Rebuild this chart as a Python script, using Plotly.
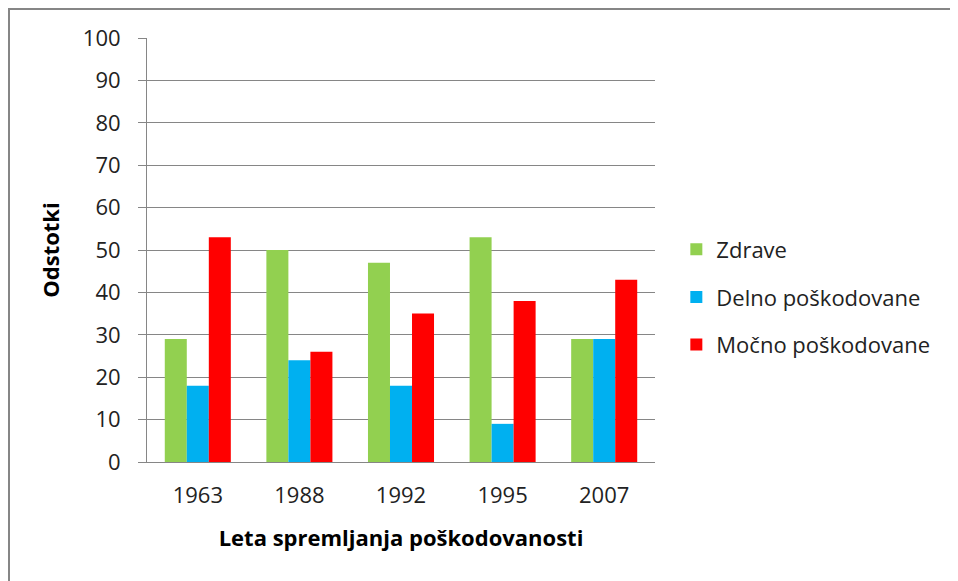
import plotly.graph_objects as go

years = ["1963", "1988", "1992", "1995", "2007"]
zdrave = [29, 50, 47, 53, 29]
delno = [18, 24, 18, 9, 29]
mocno = [53, 26, 35, 38, 43]
series_names = ["Zdrave", "Delno poškodovane", "Močno poškodovane"]
colors = ["#92D050", "#00B0F0", "#FF0000"]

FONT = "Open Sans"
fig = go.Figure()
for name, vals, col in zip(series_names, [zdrave, delno, mocno], colors):
    fig.add_trace(go.Bar(x=years, y=vals, name=name, legendgroup=name,
                         marker=dict(color=col, line=dict(width=0))))

# page is drawn at an 8px offset inside the window
W, H = 950, 573
L, T = 139, 30
R = W - 647
B = H - 454
pw, ph = W - L - R, H - T - B
xl = -L / pw
xr = 1 + (R + 40) / pw
yt = 1 + T / ph
yb = -(B + 40) / ph
fig.add_shape(type="path", xref="paper", yref="paper",
              path=f"M {xl},{yb} L {xl},{yt} L {xr},{yt}",
              line=dict(color="#868686", width=4))

fig.update_layout(
    width=W, height=H,
    margin=dict(l=L, r=R, t=T, b=B),
    paper_bgcolor="white", plot_bgcolor="white",
    barmode="group", bargap=0.35, bargroupgap=0,
    font=dict(family=FONT, size=20, color="#222222"),
    legend=dict(x=1.042, y=0.389, xanchor="left", yanchor="middle",
                traceorder="grouped", tracegroupgap=16,
                font=dict(family=FONT, size=22, color="#222222"),
                itemwidth=30),
    xaxis=dict(showline=True, linecolor="#868686", linewidth=1,
               ticks="", tickfont=dict(size=22), ticklabelstandoff=14,
               title=dict(text="<b>Leta spremljanja poškodovanosti</b>",
                          font=dict(size=22, color="#000000"), standoff=22)),
    yaxis=dict(range=[0, 100], dtick=10, showline=True, linecolor="#868686", linewidth=1,
               ticks="outside", ticklen=8, tickcolor="#868686",
               showgrid=True, gridcolor="#868686", gridwidth=1,
               zeroline=False, tickfont=dict(size=22), ticklabelstandoff=13,
               title=dict(text="<b>Odstotki</b>", font=dict(size=22, color="#000000"), standoff=17)),
)
fig.write_html("out.html")
